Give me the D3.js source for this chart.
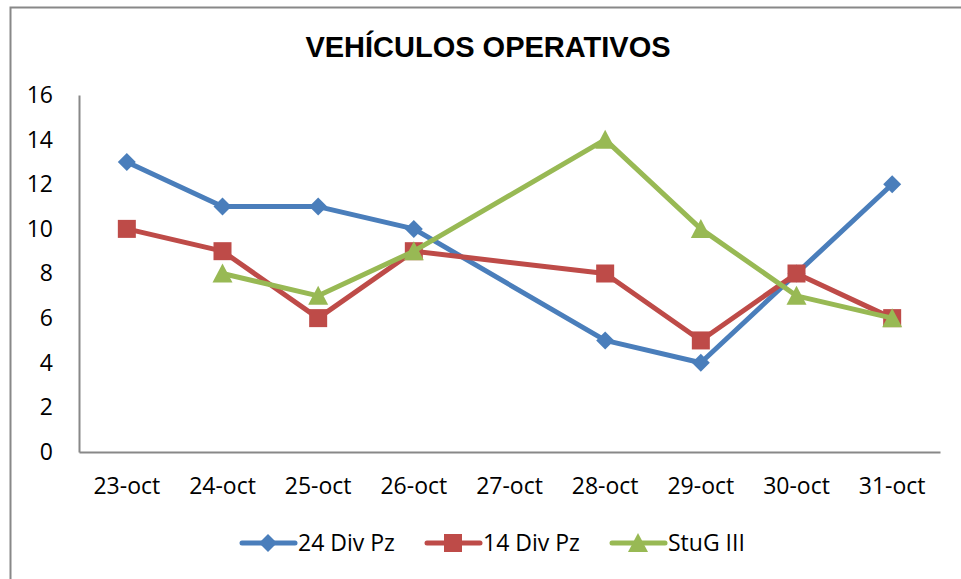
<!DOCTYPE html>
<html><head><meta charset="utf-8">
<script src="https://cdn.jsdelivr.net/npm/d3@7"></script>
<style>body{margin:0;background:#fff}svg{display:block}</style>
</head><body>
<script>
const categories = ["23-oct","24-oct","25-oct","26-oct","27-oct","28-oct","29-oct","30-oct","31-oct"];
const div24 = [13, 11, 11, 10, null, 5, 4, 8, 12];
const div14 = [10, 9, 6, 9, null, 8, 5, 8, 6];
const stug  = [null, 8, 7, 9, null, 14, 10, 7, 6];
const yTicks = [0, 2, 4, 6, 8, 10, 12, 14, 16];
const seriesNames = ["24 Div Pz", "14 Div Pz", "StuG III"];
const colors = ["#4A7EBB", "#BE4B48", "#98B954"];
const shapes = ["diamond", "square", "triangle"];
const seriesVals = [div24, div14, stug];

(function(){
const W = 961, H = 579;
const svg = d3.select("body").append("svg").attr("width", W).attr("height", H);
svg.append("rect").attr("x", 10.5).attr("y", 7.5).attr("width", 960).attr("height", 580)
  .attr("fill", "#fff").attr("stroke", "#888").attr("stroke-width", 2);

const pL = 79, pR = 940, pT = 95, pB = 452;
const x = d3.scaleBand().domain(categories).range([pL, pR]);
const y = d3.scaleLinear().domain([0, 16]).range([pB, pT]);
const font = "'Open Sans', sans-serif";
const fs = 23;

svg.append("text").attr("x", 488).attr("y", 57).attr("text-anchor", "middle")
  .attr("font-family", "'Liberation Sans', Arial, sans-serif").attr("font-weight", "bold")
  .attr("font-size", 29).text("VEHÍCULOS OPERATIVOS");

const yAxis = svg.append("g").attr("transform", `translate(${pL},0)`)
  .call(d3.axisLeft(y).tickValues(yTicks).tickSize(0).tickPadding(26));
yAxis.select(".domain").attr("stroke", "#888").attr("stroke-width", 2);
yAxis.selectAll("text").attr("font-family", font).attr("font-size", fs).attr("fill", "#000");

const xAxis = svg.append("g").attr("transform", `translate(0,${pB})`)
  .call(d3.axisBottom(x).tickSize(0).tickPadding(26));
xAxis.select(".domain").attr("stroke", "#888").attr("stroke-width", 2);
xAxis.selectAll("text").attr("font-family", font).attr("font-size", fs).attr("fill", "#000");

function marker(g, shape, cx, cy, color) {
  if (shape === "diamond") {
    g.append("path").attr("d", `M${cx},${cy-9}L${cx+9},${cy}L${cx},${cy+9}L${cx-9},${cy}Z`).attr("fill", color);
  } else if (shape === "square") {
    g.append("rect").attr("x", cx-9).attr("y", cy-9).attr("width", 18).attr("height", 18).attr("fill", color);
  } else {
    g.append("path").attr("d", `M${cx},${cy-10}L${cx+10},${cy+9}L${cx-10},${cy+9}Z`).attr("fill", color);
  }
}

const line = d3.line().x(d => x(d.c) + x.bandwidth()/2).y(d => y(d.v));
seriesVals.forEach((vals, i) => {
  const pts = categories.map((c, j) => ({c, v: vals[j]})).filter(d => d.v !== null);
  const g = svg.append("g");
  g.append("path").attr("d", line(pts)).attr("fill", "none").attr("stroke", colors[i])
    .attr("stroke-width", 5).attr("stroke-linejoin", "round").attr("stroke-linecap", "round");
  pts.forEach(d => marker(g, shapes[i], x(d.c) + x.bandwidth()/2, y(d.v), colors[i]));
});

const legX = [240, 425, 610];
seriesNames.forEach((n, i) => {
  const g = svg.append("g");
  const lx = legX[i], ly = 543;
  g.append("line").attr("x1", lx+2).attr("x2", lx+55).attr("y1", ly).attr("y2", ly)
    .attr("stroke", colors[i]).attr("stroke-width", 5).attr("stroke-linecap", "round");
  marker(g, shapes[i], lx + 28, ly, colors[i]);
  g.append("text").attr("x", lx + 58).attr("y", ly + 8).attr("font-family", font)
    .attr("font-size", fs).text(n);
});
})();
</script>
</body></html>
